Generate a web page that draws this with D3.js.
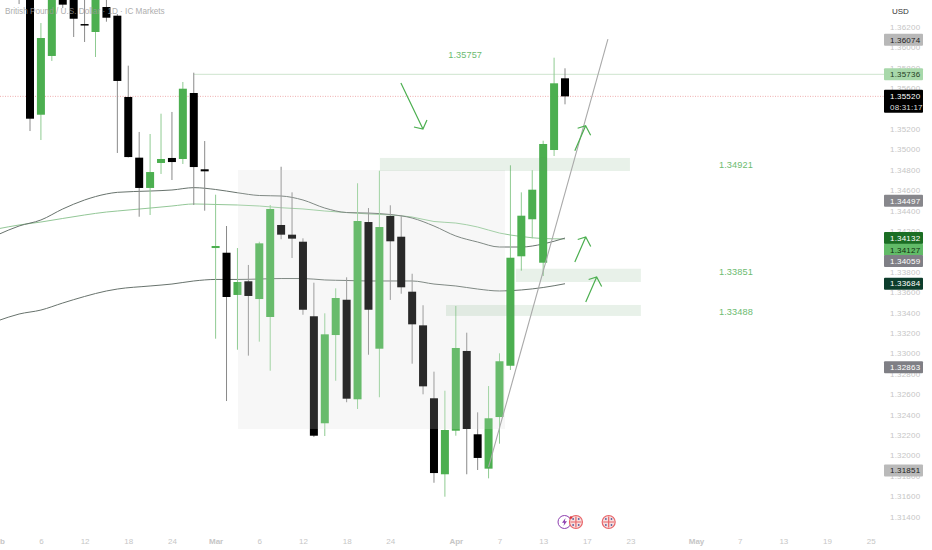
<!DOCTYPE html>
<html>
<head>
<meta charset="utf-8">
<script src="https://d3js.org/d3.v7.min.js"></script>
<style>
html, body { margin: 0; padding: 0; background: #fff; }
svg { display: block; }
text { font-family: "Liberation Sans", sans-serif; }
</style>
</head>
<body>
<div id="chart"></div>
<script>
const width = 932;
const height = 550;
const paneRight = 885;

// [bar, open, high, low, close]
const candles = [
    [-1, 1.36857, 1.36900, 1.36425, 1.36514],
    [0, 1.36759, 1.36808, 1.35180, 1.35301],
    [1, 1.35340, 1.36239, 1.35092, 1.36092],
    [2, 1.35916, 1.36710, 1.35867, 1.36661],
    [3, 1.36563, 1.36602, 1.36386, 1.36419],
    [4, 1.36543, 1.36582, 1.36102, 1.36281],
    [5, 1.36229, 1.36514, 1.36053, 1.36220],
    [6, 1.36151, 1.36661, 1.35906, 1.36612],
    [7, 1.36396, 1.36494, 1.36252, 1.36291],
    [8, 1.36311, 1.36327, 1.34965, 1.35671],
    [9, 1.35514, 1.35821, 1.34921, 1.34925],
    [10, 1.34919, 1.35171, 1.34340, 1.34622],
    [11, 1.34622, 1.35151, 1.34357, 1.34778],
    [12, 1.34867, 1.35350, 1.34759, 1.34906],
    [13, 1.34916, 1.35367, 1.34700, 1.34876],
    [14, 1.34906, 1.35661, 1.34857, 1.35595],
    [15, 1.35553, 1.35752, 1.34455, 1.34827],
    [16, 1.34805, 1.35082, 1.34399, 1.34785],
    [17, 1.34033, 1.34556, 1.33144, 1.34053],
    [18, 1.33987, 1.34249, 1.32533, 1.33553],
    [19, 1.33573, 1.34033, 1.33036, 1.33700],
    [20, 1.33707, 1.33867, 1.32978, 1.33563],
    [21, 1.33533, 1.34095, 1.33115, 1.34079],
    [22, 1.33357, 1.34455, 1.32830, 1.34416],
    [23, 1.34259, 1.34830, 1.34119, 1.34164],
    [24, 1.34164, 1.34579, 1.33935, 1.34125],
    [25, 1.34095, 1.34128, 1.33379, 1.33428],
    [26, 1.33364, 1.33693, 1.32180, 1.32193],
    [27, 1.32315, 1.33393, 1.32190, 1.33187],
    [28, 1.33180, 1.33638, 1.32732, 1.33543],
    [29, 1.33526, 1.33746, 1.32521, 1.32556],
    [30, 1.32550, 1.34668, 1.32455, 1.34298],
    [31, 1.34288, 1.34425, 1.32987, 1.33428],
    [32, 1.33046, 1.34791, 1.32570, 1.34239],
    [33, 1.34347, 1.34452, 1.33524, 1.34099],
    [34, 1.34144, 1.34357, 1.33585, 1.33648],
    [35, 1.33605, 1.33781, 1.32899, 1.33285],
    [36, 1.33275, 1.33472, 1.32599, 1.32677],
    [37, 1.32560, 1.32821, 1.31732, 1.31827],
    [38, 1.31815, 1.32634, 1.31595, 1.32249],
    [39, 1.32242, 1.33465, 1.32193, 1.33053],
    [40, 1.33024, 1.33203, 1.31815, 1.32259],
    [41, 1.32207, 1.32422, 1.31857, 1.31975],
    [42, 1.31870, 1.32680, 1.31775, 1.32364],
    [43, 1.32376, 1.33001, 1.32115, 1.32923],
    [44, 1.32879, 1.34844, 1.32837, 1.33938],
    [45, 1.33952, 1.34579, 1.33811, 1.34350],
    [46, 1.34315, 1.34795, 1.34128, 1.34605],
    [47, 1.33889, 1.35085, 1.33759, 1.35053],
    [48, 1.34994, 1.35899, 1.34935, 1.35648],
    [49, 1.35697, 1.35795, 1.35442, 1.35520]
];

const maBars = [-3, -1, 1, 3, 5, 7, 8, 11, 13, 15, 17, 19, 21, 23, 25, 27, 29, 31, 33, 35, 37, 39, 41, 43, 45, 47, 49];
const maDark = [1.34161, 1.34249, 1.34308, 1.34416, 1.34504, 1.34563, 1.34579, 1.34592, 1.34602, 1.34625, 1.34607, 1.34575, 1.34548, 1.34543, 1.34504, 1.34425, 1.34381, 1.34376, 1.34362, 1.34327, 1.34249, 1.34151, 1.34092, 1.34043, 1.34043, 1.34073, 1.34131];
const maGreen = [1.3422, 1.34259, 1.34288, 1.34323, 1.34357, 1.34386, 1.34396, 1.34425, 1.34445, 1.34465, 1.3446, 1.34455, 1.34445, 1.34428, 1.34416, 1.34396, 1.34381, 1.34367, 1.34357, 1.34337, 1.34293, 1.34278, 1.34239, 1.3418, 1.34146, 1.34126, 1.34122];
const maSlow = [1.33318, 1.33386, 1.33425, 1.33494, 1.33558, 1.33612, 1.33631, 1.33661, 1.3368, 1.3371, 1.33725, 1.33725, 1.33729, 1.33734, 1.33734, 1.3372, 1.33715, 1.3371, 1.3371, 1.3371, 1.3368, 1.33661, 1.33631, 1.33612, 1.33622, 1.33646, 1.33683];

// bar1, bar2, price top, price bottom
const grayBox = [19.05, 43.5, 1.34798, 1.32259];
const zones = [
    [32.05, 54.95, 1.34916, 1.34788],
    [44.5, 55.95, 1.33830, 1.33700],
    [38.1, 55.95, 1.33475, 1.33367]
];

const trendLine = [[42, 1.31886], [52.93, 1.36082]];
const arrowsUp = [
    [[49.9, 1.34987], [50.89, 1.35232]],
    [[49.9, 1.33896], [50.9, 1.34141]],
    [[50.9, 1.33504], [51.9, 1.33749]]
];
const arrowsDown = [[[33.97, 1.35651], [35.99, 1.352]]];

// label, bar, price where the text sits
const levelNotes = [
    ["1.35757", 38.3, 1.35925],
    ["1.34921", 63.1, 1.34847],
    ["1.33851", 63.1, 1.33798],
    ["1.33488", 63.1, 1.33406]
];

const priceTicks = d3.range(1.314, 1.3621, 0.002);
const timeBars = [-3, 1, 5, 9, 13, 17, 21, 25, 29, 33, 39, 43, 47, 51, 55, 61, 65, 69, 73, 77];
const timeLabels = ["Feb", "6", "12", "18", "24", "Mar", "6", "12", "18", "24", "Apr", "7", "13", "17", "23", "May", "7", "13", "19", "25"];
const monthLabels = ["Feb", "Mar", "Apr", "May"];

const priceTags = [
    { text: "1.36074", at: 1.36074, fill: "#b8b8b8", color: "#222" },
    { text: "1.35736", at: 1.35736, fill: "#a8d8aa", color: "#1f3d22" },
    { text: "1.34497", at: 1.34497, fill: "#87878c", color: "#fff" },
    { text: "1.34132", at: 1.34132, fill: "#1b6e24", color: "#fff" },
    { text: "1.34127", at: 1.34015, fill: "#62bb68", color: "#10300f" },
    { text: "1.34059", at: 1.33905, fill: "#7f7f86", color: "#fff" },
    { text: "1.33684", at: 1.33684, fill: "#0d3d2c", color: "#fff" },
    { text: "1.32863", at: 1.32863, fill: "#7f7f85", color: "#fff" },
    { text: "1.31851", at: 1.31851, fill: "#bababa", color: "#222" }
];
const lastPrice = 1.3552;
const countdown = "08:31:17";
const maxLevel = 1.35736;

const eventBars = [49, 50, 53];
const eventKinds = ["bolt", "flag", "flag"];

const x = d3.scaleLinear().domain([0, 49]).range([30, 565]);
const y = d3.scaleLinear().domain([1.314, 1.362]).range([516.6, 27]);

const svg = d3.select("#chart").append("svg")
    .attr("width", width)
    .attr("height", height);

svg.append("defs").append("clipPath").attr("id", "pane")
    .append("rect").attr("width", paneRight).attr("height", height);

const pane = svg.append("g").attr("clip-path", "url(#pane)");

function boxRect(parent, b) {
    return parent.append("rect")
        .attr("x", x(b[0]))
        .attr("y", y(b[2]))
        .attr("width", x(b[1]) - x(b[0]))
        .attr("height", y(b[3]) - y(b[2]));
}

boxRect(pane, grayBox).attr("fill", "#f6f6f6");

const maLine = d3.line()
    .x((d, i) => x(maBars[i]))
    .y(d => y(d))
    .curve(d3.curveMonotoneX);

pane.append("path").datum(maGreen).attr("d", maLine).attr("fill", "none").attr("stroke", "#93c797").attr("stroke-width", 1);
pane.append("path").datum(maDark).attr("d", maLine).attr("fill", "none").attr("stroke", "#68736d").attr("stroke-width", 1);
pane.append("path").datum(maSlow).attr("d", maLine).attr("fill", "none").attr("stroke", "#68736d").attr("stroke-width", 1);

// level line and last price line
pane.append("line")
    .attr("x1", x(15)).attr("x2", paneRight)
    .attr("y1", y(maxLevel)).attr("y2", y(maxLevel))
    .attr("stroke", "#cfe5cf").attr("stroke-width", 1);
pane.append("line")
    .attr("x1", 0).attr("x2", paneRight)
    .attr("y1", y(lastPrice)).attr("y2", y(lastPrice))
    .attr("stroke", "#eb9a9a").attr("stroke-width", 0.8)
    .attr("stroke-dasharray", "1 1.5");

const candleWrap = pane.selectAll(".candle").data(candles).enter().append("g").attr("class", "candle");

candleWrap.append("line")
    .attr("x1", d => x(d[0]))
    .attr("x2", d => x(d[0]))
    .attr("y1", d => y(d[2]))
    .attr("y2", d => y(d[3]))
    .attr("stroke", d => d[4] >= d[1] ? "#8fcb92" : "#8a8a8a")
    .attr("stroke-width", 1);

candleWrap.append("rect")
    .attr("x", d => x(d[0]) - 4)
    .attr("width", 8)
    .attr("y", d => y(Math.max(d[1], d[4])))
    .attr("height", d => Math.max(1.5, Math.abs(y(d[1]) - y(d[4]))))
    .attr("fill", d => d[4] >= d[1] ? "#4caf50" : "#000");

// the box sits over the candles too and washes them out
boxRect(pane, grayBox).attr("fill", "#fff").attr("opacity", 0.16);

zones.forEach(z => {
    boxRect(pane, z).attr("fill", "#5f9e63").attr("opacity", 0.14);
});

pane.append("line")
    .attr("x1", x(trendLine[0][0])).attr("y1", y(trendLine[0][1]))
    .attr("x2", x(trendLine[1][0])).attr("y2", y(trendLine[1][1]))
    .attr("stroke", "#a9a9a9").attr("stroke-width", 1.1);

function drawArrow(a, barbs) {
    const x1 = x(a[0][0]), y1 = y(a[0][1]);
    const x2 = x(a[1][0]), y2 = y(a[1][1]);
    pane.append("path")
        .attr("d", `M${x1},${y1}L${x2},${y2}M${x2 + barbs[0][0]},${y2 + barbs[0][1]}L${x2},${y2}L${x2 + barbs[1][0]},${y2 + barbs[1][1]}`)
        .attr("fill", "none")
        .attr("stroke", "#4caf50")
        .attr("stroke-width", 1.2);
}
arrowsUp.forEach(a => drawArrow(a, [[-8, 2.5], [5, 9.5]]));
arrowsDown.forEach(a => drawArrow(a, [[-9, -2], [4, -9]]));

pane.selectAll(".note").data(levelNotes).enter().append("text")
    .attr("class", "note")
    .attr("x", d => x(d[1]))
    .attr("y", d => y(d[2]))
    .attr("dy", "0.35em")
    .attr("font-size", 9.2)
    .attr("letter-spacing", 0.1)
    .attr("fill", "#6cbb70")
    .text(d => d[0]);

svg.append("text")
    .attr("x", 5).attr("y", 13.5)
    .attr("font-size", 8.2)
    .attr("fill", "#9a9a9a")
    .attr("opacity", 0.8)
    .text("British Pound / U.S. Dollar · 1D · IC Markets");

// price axis
const priceAxis = d3.axisRight(y)
    .tickValues(priceTicks)
    .tickSize(0)
    .tickPadding(0)
    .tickFormat(d3.format(".5f"));

const priceG = svg.append("g")
    .attr("transform", "translate(890,0)")
    .call(priceAxis);
priceG.select(".domain").remove();
priceG.selectAll("text")
    .attr("font-family", '"Liberation Sans", sans-serif')
    .attr("font-size", 8)
    .attr("letter-spacing", 0.2)
    .attr("fill", "#c6c6c6");

svg.append("text")
    .attr("x", 892).attr("y", 14)
    .attr("font-size", 8)
    .attr("fill", "#333")
    .text("USD");

const tag = svg.selectAll(".tag").data(priceTags).enter().append("g")
    .attr("class", "tag")
    .attr("transform", d => `translate(884,${y(d.at)})`);
tag.append("rect")
    .attr("y", -6).attr("width", 39).attr("height", 12)
    .attr("rx", 1)
    .attr("fill", d => d.fill);
tag.append("text")
    .attr("x", 6).attr("dy", "0.35em")
    .attr("font-size", 8)
    .attr("letter-spacing", 0.2)
    .attr("fill", d => d.color)
    .text(d => d.text);

const lastTag = svg.append("g").attr("transform", `translate(884,${y(lastPrice) - 6.5})`);
lastTag.append("rect").attr("width", 39).attr("height", 23).attr("rx", 1).attr("fill", "#000");
lastTag.append("text").attr("x", 6).attr("y", 9)
    .attr("font-size", 8).attr("letter-spacing", 0.2).attr("fill", "#fff").text(d3.format(".5f")(lastPrice));
lastTag.append("text").attr("x", 6).attr("y", 20)
    .attr("font-size", 8).attr("letter-spacing", 0.2).attr("fill", "#ddd").text(countdown);

// time axis
const timeAxis = d3.axisBottom(x)
    .tickValues(timeBars)
    .tickSize(0)
    .tickPadding(0)
    .tickFormat((d, i) => timeLabels[i]);

const timeG = svg.append("g")
    .attr("transform", "translate(0,538)")
    .call(timeAxis);
timeG.select(".domain").remove();
timeG.selectAll("text")
    .attr("font-family", '"Liberation Sans", sans-serif')
    .attr("font-size", 8)
    .attr("font-weight", d => monthLabels.includes(timeLabels[timeBars.indexOf(d)]) ? "bold" : "normal")
    .attr("fill", "#c6c6c6");

// event markers under the candles
eventBars.forEach((bar, i) => {
    const g = svg.append("g").attr("transform", `translate(${x(bar) + (i === 0 ? -0.5 : 0)},522)`);
    if (eventKinds[i] === "bolt") {
        g.append("circle").attr("r", 6.5).attr("fill", "#fff").attr("stroke", "#8e3fb0").attr("stroke-width", 1);
        g.append("path").attr("d", "M1,-4L-2.5,0.8L-0.3,0.8L-1,4L2.5,-0.8L0.3,-0.8Z").attr("fill", "#8e3fb0");
    } else {
        g.append("circle").attr("r", 6.5).attr("fill", "#f6dfdf").attr("stroke", "#e9666a").attr("stroke-width", 1.2);
        g.append("path").attr("d", "M-5.5,0H5.5M0,-5.5V5.5").attr("stroke", "#e9666a").attr("stroke-width", 1.2);
        g.selectAll(".dot").data([[-2.8, -3], [2.8, -3], [-2.8, 3], [2.8, 3]]).enter().append("circle")
            .attr("cx", d => d[0]).attr("cy", d => d[1]).attr("r", 0.9).attr("fill", "#5b5f9a");
        if (i === 1) {
            g.append("circle").attr("cx", -5).attr("cy", -4.5).attr("r", 1.3).attr("fill", "#d9363e");
        }
    }
});
</script>
</body>
</html>
